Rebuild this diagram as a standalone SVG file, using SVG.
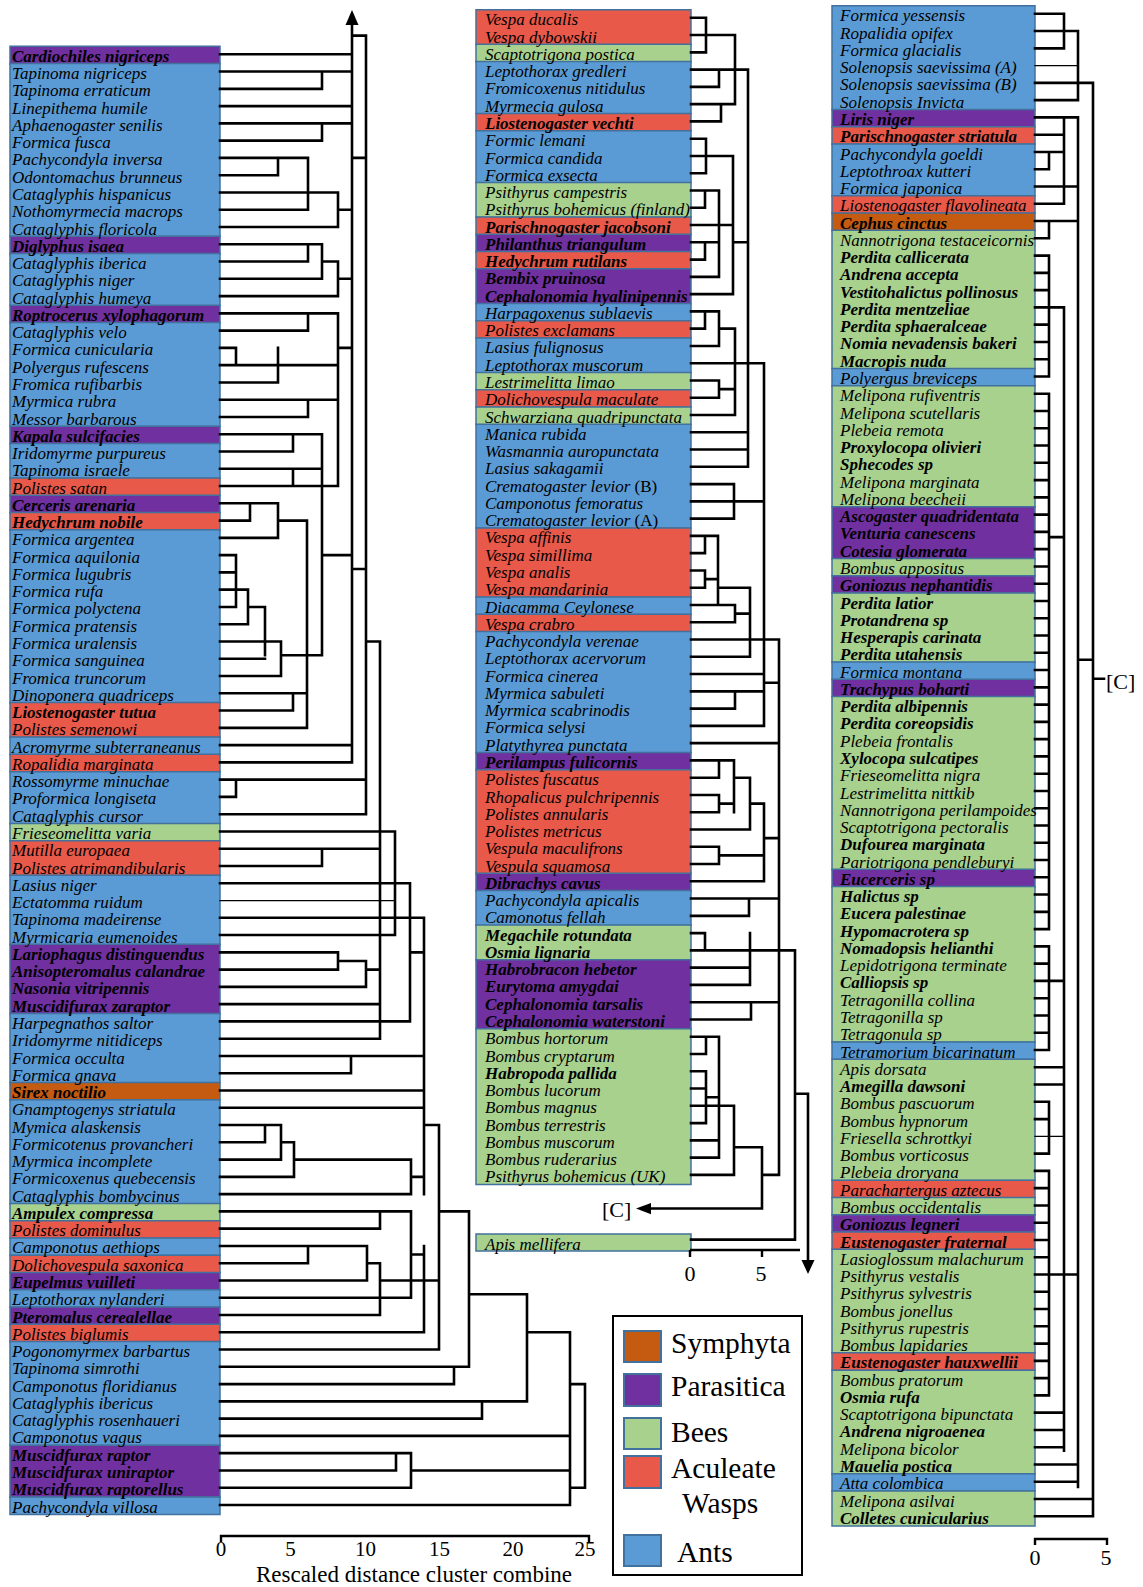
<svg xmlns="http://www.w3.org/2000/svg" width="1143" height="1587" viewBox="0 0 1143 1587">
<style>
.t{font-family:"Liberation Serif","Times New Roman",serif;font-style:italic;font-size:17px;fill:#000}
.b{font-weight:bold}
.n{font-style:normal}
.bx rect{stroke:#41719c;stroke-width:1.5;vector-effect:non-scaling-stroke}
.A{fill:#5b9bd5}.B{fill:#a9d18e}.W{fill:#e8594a}.P{fill:#7030a0}.S{fill:#c55a11}
.ln{fill:none;stroke:#000;stroke-width:2.6;stroke-linecap:square;vector-effect:non-scaling-stroke}
.th{stroke-width:1.3}
.ax{font-family:"Liberation Serif","Times New Roman",serif;font-size:22px;fill:#000}
.lg{font-family:"Liberation Serif","Times New Roman",serif;font-size:29.5px;fill:#000}
.sq{stroke:#41719c;stroke-width:2}
</style>
<rect width="1143" height="1587" fill="#fff"/>

<!-- colour blocks -->
<g id="boxes-left" class="bx" transform="matrix(1 0 0 17.27 0 38.53)">
<rect class="P" x="10" y="0.45" width="210" height="1.02"/>
<rect class="A" x="10" y="1.45" width="210" height="10.02"/>
<rect class="P" x="10" y="11.45" width="210" height="1.02"/>
<rect class="A" x="10" y="12.45" width="210" height="3.02"/>
<rect class="P" x="10" y="15.45" width="210" height="1.02"/>
<rect class="A" x="10" y="16.45" width="210" height="6.02"/>
<rect class="P" x="10" y="22.45" width="210" height="1.02"/>
<rect class="A" x="10" y="23.45" width="210" height="2.02"/>
<rect class="W" x="10" y="25.45" width="210" height="1.02"/>
<rect class="P" x="10" y="26.45" width="210" height="1.02"/>
<rect class="W" x="10" y="27.45" width="210" height="1.02"/>
<rect class="A" x="10" y="28.45" width="210" height="10.02"/>
<rect class="W" x="10" y="38.45" width="210" height="2.02"/>
<rect class="A" x="10" y="40.45" width="210" height="1.02"/>
<rect class="W" x="10" y="41.45" width="210" height="1.02"/>
<rect class="A" x="10" y="42.45" width="210" height="3.02"/>
<rect class="B" x="10" y="45.45" width="210" height="1.02"/>
<rect class="W" x="10" y="46.45" width="210" height="2.02"/>
<rect class="A" x="10" y="48.45" width="210" height="4.02"/>
<rect class="P" x="10" y="52.45" width="210" height="4.02"/>
<rect class="A" x="10" y="56.45" width="210" height="4.02"/>
<rect class="S" x="10" y="60.45" width="210" height="1.02"/>
<rect class="A" x="10" y="61.45" width="210" height="6.02"/>
<rect class="B" x="10" y="67.45" width="210" height="1.02"/>
<rect class="W" x="10" y="68.45" width="210" height="1.02"/>
<rect class="A" x="10" y="69.45" width="210" height="1.02"/>
<rect class="W" x="10" y="70.45" width="210" height="1.02"/>
<rect class="P" x="10" y="71.45" width="210" height="1.02"/>
<rect class="A" x="10" y="72.45" width="210" height="1.02"/>
<rect class="P" x="10" y="73.45" width="210" height="1.02"/>
<rect class="W" x="10" y="74.45" width="210" height="1.02"/>
<rect class="A" x="10" y="75.45" width="210" height="6.02"/>
<rect class="P" x="10" y="81.45" width="210" height="3.02"/>
<rect class="A" x="10" y="84.45" width="210" height="1.02"/>
</g>

<g id="boxes-middle" class="bx" transform="matrix(1 0 0 17.27 0 2.03)">
<rect class="W" x="476" y="0.45" width="215" height="2.02"/>
<rect class="B" x="476" y="2.45" width="215" height="1.02"/>
<rect class="A" x="476" y="3.45" width="215" height="3.02"/>
<rect class="W" x="476" y="6.45" width="215" height="1.02"/>
<rect class="A" x="476" y="7.45" width="215" height="3.02"/>
<rect class="B" x="476" y="10.45" width="215" height="2.02"/>
<rect class="W" x="476" y="12.45" width="215" height="1.02"/>
<rect class="P" x="476" y="13.45" width="215" height="1.02"/>
<rect class="W" x="476" y="14.45" width="215" height="1.02"/>
<rect class="P" x="476" y="15.45" width="215" height="2.02"/>
<rect class="A" x="476" y="17.45" width="215" height="1.02"/>
<rect class="W" x="476" y="18.45" width="215" height="1.02"/>
<rect class="A" x="476" y="19.45" width="215" height="2.02"/>
<rect class="B" x="476" y="21.45" width="215" height="1.02"/>
<rect class="W" x="476" y="22.45" width="215" height="1.02"/>
<rect class="B" x="476" y="23.45" width="215" height="1.02"/>
<rect class="A" x="476" y="24.45" width="215" height="6.02"/>
<rect class="W" x="476" y="30.45" width="215" height="4.02"/>
<rect class="A" x="476" y="34.45" width="215" height="1.02"/>
<rect class="W" x="476" y="35.45" width="215" height="1.02"/>
<rect class="A" x="476" y="36.45" width="215" height="7.02"/>
<rect class="P" x="476" y="43.45" width="215" height="1.02"/>
<rect class="W" x="476" y="44.45" width="215" height="6.02"/>
<rect class="P" x="476" y="50.45" width="215" height="1.02"/>
<rect class="A" x="476" y="51.45" width="215" height="2.02"/>
<rect class="B" x="476" y="53.45" width="215" height="2.02"/>
<rect class="P" x="476" y="55.45" width="215" height="4.02"/>
<rect class="B" x="476" y="59.45" width="215" height="9.02"/>
</g>
<rect class="B" x="476" y="1234" width="215" height="17" stroke="#41719c" stroke-width="1.5"/>

<g id="boxes-right" class="bx" transform="matrix(1 0 0 17.27 0 -1.97)">
<rect class="A" x="832" y="0.45" width="203" height="6.02"/>
<rect class="P" x="832" y="6.45" width="203" height="1.02"/>
<rect class="W" x="832" y="7.45" width="203" height="1.02"/>
<rect class="A" x="832" y="8.45" width="203" height="3.02"/>
<rect class="W" x="832" y="11.45" width="203" height="1.02"/>
<rect class="S" x="832" y="12.45" width="203" height="1.02"/>
<rect class="B" x="832" y="13.45" width="203" height="8.02"/>
<rect class="A" x="832" y="21.45" width="203" height="1.02"/>
<rect class="B" x="832" y="22.45" width="203" height="7.02"/>
<rect class="P" x="832" y="29.45" width="203" height="3.02"/>
<rect class="B" x="832" y="32.45" width="203" height="1.02"/>
<rect class="P" x="832" y="33.45" width="203" height="1.02"/>
<rect class="B" x="832" y="34.45" width="203" height="4.02"/>
<rect class="A" x="832" y="38.45" width="203" height="1.02"/>
<rect class="P" x="832" y="39.45" width="203" height="1.02"/>
<rect class="B" x="832" y="40.45" width="203" height="10.02"/>
<rect class="P" x="832" y="50.45" width="203" height="1.02"/>
<rect class="B" x="832" y="51.45" width="203" height="9.02"/>
<rect class="A" x="832" y="60.45" width="203" height="1.02"/>
<rect class="B" x="832" y="61.45" width="203" height="7.02"/>
<rect class="W" x="832" y="68.45" width="203" height="1.02"/>
<rect class="B" x="832" y="69.45" width="203" height="1.02"/>
<rect class="P" x="832" y="70.45" width="203" height="1.02"/>
<rect class="W" x="832" y="71.45" width="203" height="1.02"/>
<rect class="B" x="832" y="72.45" width="203" height="6.02"/>
<rect class="W" x="832" y="78.45" width="203" height="1.02"/>
<rect class="B" x="832" y="79.45" width="203" height="6.02"/>
<rect class="A" x="832" y="85.45" width="203" height="1.02"/>
<rect class="B" x="832" y="86.45" width="203" height="2.02"/>
</g>

<!-- connectors -->
<g id="connectors">
<g transform="matrix(1 0 0 17.27 0 37.03)">
<path class="ln" d="M352 -0.75V42M352 -0.08H366V45M220 1H352M220 2H352M220 3H322V2M220 4H352M220 5H352M220 6H322V5M220 7H308M220 8H278V7M308 7V10M220 9H338M220 10H308M220 11H338V9M338 10H352M352 7H366M220 12H322M220 13H308V12M220 14H322V12M322 13H338V15M220 15H338M338 14H352M220 16H338M220 17H308V16M220 18H236M220 19H236V18M236 19H278M220 20H278V18M278 19H338M338 16V26M220 21H338M220 22H308V21M338 18H352M220 23H322M220 24H293V23M322 23V35.8M220 25H322M220 26H293V25M293 26H338M220 27H250M220 28H250V27M250 27H278V29M278 28H307M220 29H278M307 28V40M220 30H236M220 31H236M236 30V33M220 32H248M220 33H236M220 34H248V32M248 33H265V35.8M220 35H281M220 36H265M220 37H281V35M281 35.8H322M220 38H307M220 39H293V38M220 40H307M322 30H352M220 41H352M220 42H352M352 30.8H366M220 43H366M220 44H236V43M220 45H366M366 35H380V58M220 46H395M220 47H380M220 48H322V47M220 49H410M220 51H424M220 52H395M395 46V52M220 53H338M220 54H338V53M338 53.5H366M220 55H366V53.5M366 54H380M220 56H380M220 57H380M220 58H380M380 57H410M410 49V57M410 53H424M424 51V67M220 59H424M220 60H351V59M220 61H424M220 62H424M220 63H265M220 64H265V63M265 63H281V65M220 65H281M281 64H294V66M220 66H294M294 65H411V67M220 67H411M411 66H424M424 63H439V76M220 68H411M220 69H380V68M220 70H367M220 71H308V70M220 72H367V70M367 71H380V74M220 73H411V68M220 74H380M380 72H424M411 70.5H424M424 70V75M220 75H424M424 72H439M439 68H469V77M220 76H439M220 77H469M220 78H454V77M469 72.8H527V79M220 79H527M220 80H482V79M527 75H570V85M220 81H570M220 82H411M220 83H396V82M220 84H411V82M411 83H570M220 85H570M570 78H585M570 84H585M585 78V84"/>
<path class="ln th" d="M220 50H395"/>
</g>
<g transform="matrix(1 0 0 17.27 0 0.53)">
<path class="ln" d="M691 1H706M691 2H735M691 3H706M706 1V3M735 2V6M691 4H748M691 5H719V4M691 6H735M691 7H721V6M748 4V27M691 8H706M691 9H733M691 10H706V8M733 9V17M691 11H719M691 12H705V11M691 13H733M691 14H719M691 15H705V14M691 16H719M719 11V16M691 17H733M733 14H748M691 18H705M691 19H705V18M705 18H719V20M691 20H719M719 19H735V24M691 21H764V42M691 22H719M691 23H719V22M719 22.5H735M691 24H735M691 25H748M691 26H748M691 27H748M691 28H734M691 29H764M691 30H734V28M691 31H718M691 32H705V31M691 33H705M691 34H705V33M705 33.5H718M718 31V35M718 34H750V38M691 35H735M691 36H735V35M735 35.5H750M691 37H779M691 38H750M691 39H763M691 40H763M691 41H735V40M691 42H763M691 43H779M779 37V68M764 39.5H779M691 44H734M691 45H719V44M691 46H719M691 47H719V46M734 44V47M719 46.5H734M734 45H750M691 48H750V45M750 46.5H764V51M691 49H719M691 50H719V49M719 49.5H764M691 51H764M764 48.5H779M691 52H779M691 53H749V52M691 54H705M691 55H705V54M705 55H750M691 56H750M691 57H750M750 54V57M750 55H795V71.75M691 58H779M691 59H751V58M691 60H719M691 61H706V60M691 62H706M691 63H706M691 65H706M706 62V65M706 63.5H719M691 64H734M691 66H719M691 67H719M719 60V67M691 68H734M734 64V68M734 66.4H762V69.95H651M762 68H779M691 71.75H795M795 63.3H808V73"/>
</g>
<g transform="matrix(1 0 0 17.27 0 -3.47)">
<path class="ln" d="M1035 1H1064M1035 2H1078M1035 3H1064V1M1078 2V6M1035 5H1093M1035 6H1078M1093 5V88M1035 7H1078M1078 7V86.3M1035 8H1064M1035 9H1064M1035 10H1049V9M1035 11H1078M1035 12H1064M1064 7V12M1035 13H1078M1035 14H1049V13M1035 15h14M1035 16h14M1035 17h14M1035 18h14M1035 19h14M1035 20h14M1035 21h14M1035 22h14M1049 15V22M1049 18H1064M1064 18V84.2M1035 23h14M1035 24h14M1035 25h14M1035 26h14M1035 27h14M1035 28h14M1035 29h14M1035 30h14M1035 31h14M1035 32h14M1035 33h14M1035 34h14M1035 35h14M1035 36h14M1035 37h14M1035 38h14M1035 39h14M1035 40h14M1035 41h14M1035 42h14M1035 43h14M1035 44h14M1035 45h14M1035 46h14M1035 47h14M1035 48h14M1035 49h14M1035 50h14M1035 51h14M1035 52h14M1035 53h14M1035 54h14M1049 23V54M1049 31.3H1064M1035 55h14M1035 56h14M1035 57h14M1035 58h14M1035 59h14M1035 60h14M1035 61h14M1049 55V61M1049 57H1064M1035 62H1064M1035 63H1064M1035 64h14M1035 65h14M1035 67h14M1049 64V67M1035 68h14M1035 69h14M1035 70h14M1035 71h14M1035 72h14M1035 73h14M1035 74H1078M1035 75h14M1035 76h14M1035 77h14M1035 78h14M1035 79h14M1035 80h14M1035 81h14M1049 68V81M1035 82H1064M1035 83H1064M1035 84H1064M1035 85H1078M1035 86H1078M1035 87H1093M1035 88H1093M1078 38.4H1093M1093 39.5H1104"/>
<path class="ln th" d="M1035 4H1078M1035 66H1064"/>
</g>
<polygon points="352,10 345.5,25 358.5,25" fill="#000"/>
<polygon points="636,1208.6 651,1203 651,1214.2" fill="#000"/>
<polygon points="808,1274 801.5,1260 814.5,1260" fill="#000"/>
</g>

<!-- left column nodes -->
<g id="left-nodes" class="t">
<g id="L01"><text class="t b" x="12" y="61.8">Cardiochiles nigriceps</text></g>
<g id="L02"><text class="t" x="12" y="79.1">Tapinoma nigriceps</text></g>
<g id="L03"><text class="t" x="12" y="96.3">Tapinoma erraticum</text></g>
<g id="L04"><text class="t" x="12" y="113.6">Linepithema humile</text></g>
<g id="L05"><text class="t" x="12" y="130.9">Aphaenogaster senilis</text></g>
<g id="L06"><text class="t" x="12" y="148.2">Formica fusca</text></g>
<g id="L07"><text class="t" x="12" y="165.4">Pachycondyla inversa</text></g>
<g id="L08"><text class="t" x="12" y="182.7">Odontomachus brunneus</text></g>
<g id="L09"><text class="t" x="12" y="200.0">Cataglyphis hispanicus</text></g>
<g id="L10"><text class="t" x="12" y="217.2">Nothomyrmecia macrops</text></g>
<g id="L11"><text class="t" x="12" y="234.5">Cataglyphis floricola</text></g>
<g id="L12"><text class="t b" x="12" y="251.8">Diglyphus isaea</text></g>
<g id="L13"><text class="t" x="12" y="269.0">Cataglyphis iberica</text></g>
<g id="L14"><text class="t" x="12" y="286.3">Cataglyphis niger</text></g>
<g id="L15"><text class="t" x="12" y="303.6">Cataglyphis humeya</text></g>
<g id="L16"><text class="t b" x="12" y="320.9">Roptrocerus xylophagorum</text></g>
<g id="L17"><text class="t" x="12" y="338.1">Cataglyphis velo</text></g>
<g id="L18"><text class="t" x="12" y="355.4">Formica cunicularia</text></g>
<g id="L19"><text class="t" x="12" y="372.7">Polyergus rufescens</text></g>
<g id="L20"><text class="t" x="12" y="389.9">Fromica rufibarbis</text></g>
<g id="L21"><text class="t" x="12" y="407.2">Myrmica rubra</text></g>
<g id="L22"><text class="t" x="12" y="424.5">Messor barbarous</text></g>
<g id="L23"><text class="t b" x="12" y="441.7">Kapala sulcifacies</text></g>
<g id="L24"><text class="t" x="12" y="459.0">Iridomyrme purpureus</text></g>
<g id="L25"><text class="t" x="12" y="476.3">Tapinoma israele</text></g>
<g id="L26"><text class="t" x="12" y="493.6">Polistes satan</text></g>
<g id="L27"><text class="t b" x="12" y="510.8">Cerceris arenaria</text></g>
<g id="L28"><text class="t b" x="12" y="528.1">Hedychrum nobile</text></g>
<g id="L29"><text class="t" x="12" y="545.4">Formica argentea</text></g>
<g id="L30"><text class="t" x="12" y="562.6">Formica aquilonia</text></g>
<g id="L31"><text class="t" x="12" y="579.9">Formica lugubris</text></g>
<g id="L32"><text class="t" x="12" y="597.2">Formica rufa</text></g>
<g id="L33"><text class="t" x="12" y="614.4">Formica polyctena</text></g>
<g id="L34"><text class="t" x="12" y="631.7">Formica pratensis</text></g>
<g id="L35"><text class="t" x="12" y="649.0">Formica uralensis</text></g>
<g id="L36"><text class="t" x="12" y="666.3">Formica sanguinea</text></g>
<g id="L37"><text class="t" x="12" y="683.5">Fromica truncorum</text></g>
<g id="L38"><text class="t" x="12" y="700.8">Dinoponera quadriceps</text></g>
<g id="L39"><text class="t b" x="12" y="718.1">Liostenogaster tutua</text></g>
<g id="L40"><text class="t" x="12" y="735.3">Polistes semenowi</text></g>
<g id="L41"><text class="t" x="12" y="752.6">Acromyrme subterraneanus</text></g>
<g id="L42"><text class="t" x="12" y="769.9">Ropalidia marginata</text></g>
<g id="L43"><text class="t" x="12" y="787.1">Rossomyrme minuchae</text></g>
<g id="L44"><text class="t" x="12" y="804.4">Proformica longiseta</text></g>
<g id="L45"><text class="t" x="12" y="821.7">Cataglyphis cursor</text></g>
<g id="L46"><text class="t" x="12" y="839.0">Frieseomelitta varia</text></g>
<g id="L47"><text class="t" x="12" y="856.2">Mutilla europaea</text></g>
<g id="L48"><text class="t" x="12" y="873.5">Polistes atrimandibularis</text></g>
<g id="L49"><text class="t" x="12" y="890.8">Lasius niger</text></g>
<g id="L50"><text class="t" x="12" y="908.0">Ectatomma ruidum</text></g>
<g id="L51"><text class="t" x="12" y="925.3">Tapinoma madeirense</text></g>
<g id="L52"><text class="t" x="12" y="942.6">Myrmicaria eumenoides</text></g>
<g id="L53"><text class="t b" x="12" y="959.8">Lariophagus distinguendus</text></g>
<g id="L54"><text class="t b" x="12" y="977.1">Anisopteromalus calandrae</text></g>
<g id="L55"><text class="t b" x="12" y="994.4">Nasonia vitripennis</text></g>
<g id="L56"><text class="t b" x="12" y="1011.7">Muscidifurax zaraptor</text></g>
<g id="L57"><text class="t" x="12" y="1028.9">Harpegnathos saltor</text></g>
<g id="L58"><text class="t" x="12" y="1046.2">Iridomyrme nitidiceps</text></g>
<g id="L59"><text class="t" x="12" y="1063.5">Formica occulta</text></g>
<g id="L60"><text class="t" x="12" y="1080.7">Formica gnava</text></g>
<g id="L61"><text class="t b" x="12" y="1098.0">Sirex noctilio</text></g>
<g id="L62"><text class="t" x="12" y="1115.3">Gnamptogenys striatula</text></g>
<g id="L63"><text class="t" x="12" y="1132.5">Mymica alaskensis</text></g>
<g id="L64"><text class="t" x="12" y="1149.8">Formicotenus provancheri</text></g>
<g id="L65"><text class="t" x="12" y="1167.1">Myrmica incomplete</text></g>
<g id="L66"><text class="t" x="12" y="1184.4">Formicoxenus quebecensis</text></g>
<g id="L67"><text class="t" x="12" y="1201.6">Cataglyphis bombycinus</text></g>
<g id="L68"><text class="t b" x="12" y="1218.9">Ampulex compressa</text></g>
<g id="L69"><text class="t" x="12" y="1236.2">Polistes dominulus</text></g>
<g id="L70"><text class="t" x="12" y="1253.4">Camponotus aethiops</text></g>
<g id="L71"><text class="t" x="12" y="1270.7">Dolichovespula saxonica</text></g>
<g id="L72"><text class="t b" x="12" y="1288.0">Eupelmus vuilleti</text></g>
<g id="L73"><text class="t" x="12" y="1305.2">Leptothorax nylanderi</text></g>
<g id="L74"><text class="t b" x="12" y="1322.5">Pteromalus cerealellae</text></g>
<g id="L75"><text class="t" x="12" y="1339.8">Polistes biglumis</text></g>
<g id="L76"><text class="t" x="12" y="1357.1">Pogonomyrmex barbartus</text></g>
<g id="L77"><text class="t" x="12" y="1374.3">Tapinoma simrothi</text></g>
<g id="L78"><text class="t" x="12" y="1391.6">Camponotus floridianus</text></g>
<g id="L79"><text class="t" x="12" y="1408.9">Cataglyphis ibericus</text></g>
<g id="L80"><text class="t" x="12" y="1426.1">Cataglyphis rosenhaueri</text></g>
<g id="L81"><text class="t" x="12" y="1443.4">Camponotus vagus</text></g>
<g id="L82"><text class="t b" x="12" y="1460.7">Muscidfurax raptor</text></g>
<g id="L83"><text class="t b" x="12" y="1477.9">Muscidfurax uniraptor</text></g>
<g id="L84"><text class="t b" x="12" y="1495.2">Muscidfurax raptorellus</text></g>
<g id="L85"><text class="t" x="12" y="1512.5">Pachycondyla villosa</text></g>
</g>

<!-- middle column nodes -->
<g id="middle-nodes">
<g id="M01"><text class="t" x="485" y="25.3">Vespa ducalis</text></g>
<g id="M02"><text class="t" x="485" y="42.6">Vespa dybowskii</text></g>
<g id="M03"><text class="t" x="485" y="59.8">Scaptotrigona postica</text></g>
<g id="M04"><text class="t" x="485" y="77.1">Leptothorax gredleri</text></g>
<g id="M05"><text class="t" x="485" y="94.4">Fromicoxenus nitidulus</text></g>
<g id="M06"><text class="t" x="485" y="111.7">Myrmecia gulosa</text></g>
<g id="M07"><text class="t b" x="485" y="128.9">Liostenogaster vechti</text></g>
<g id="M08"><text class="t" x="485" y="146.2">Formic lemani</text></g>
<g id="M09"><text class="t" x="485" y="163.5">Formica candida</text></g>
<g id="M10"><text class="t" x="485" y="180.7">Formica exsecta</text></g>
<g id="M11"><text class="t" x="485" y="198.0">Psithyrus campestris</text></g>
<g id="M12"><text class="t" x="485" y="215.3">Psithyrus bohemicus (finland)</text></g>
<g id="M13"><text class="t b" x="485" y="232.5">Parischnogaster jacobsoni</text></g>
<g id="M14"><text class="t b" x="485" y="249.8">Philanthus triangulum</text></g>
<g id="M15"><text class="t b" x="485" y="267.1">Hedychrum rutilans</text></g>
<g id="M16"><text class="t b" x="485" y="284.4">Bembix pruinosa</text></g>
<g id="M17"><text class="t b" x="485" y="301.6">Cephalonomia hyalinipennis</text></g>
<g id="M18"><text class="t" x="485" y="318.9">Harpagoxenus sublaevis</text></g>
<g id="M19"><text class="t" x="485" y="336.2">Polistes exclamans</text></g>
<g id="M20"><text class="t" x="485" y="353.4">Lasius fulignosus</text></g>
<g id="M21"><text class="t" x="485" y="370.7">Leptothorax muscorum</text></g>
<g id="M22"><text class="t" x="485" y="388.0">Lestrimelitta limao</text></g>
<g id="M23"><text class="t" x="485" y="405.2">Dolichovespula maculate</text></g>
<g id="M24"><text class="t" x="485" y="422.5">Schwarziana quadripunctata</text></g>
<g id="M25"><text class="t" x="485" y="439.8">Manica rubida</text></g>
<g id="M26"><text class="t" x="485" y="457.1">Wasmannia auropunctata</text></g>
<g id="M27"><text class="t" x="485" y="474.3">Lasius sakagamii</text></g>
<g id="M28"><text class="t" x="485" y="491.6">Crematogaster levior <tspan class="n">(B)</tspan></text></g>
<g id="M29"><text class="t" x="485" y="508.9">Camponotus femoratus</text></g>
<g id="M30"><text class="t" x="485" y="526.1">Crematogaster levior <tspan class="n">(A)</tspan></text></g>
<g id="M31"><text class="t" x="485" y="543.4">Vespa affinis</text></g>
<g id="M32"><text class="t" x="485" y="560.7">Vespa simillima</text></g>
<g id="M33"><text class="t" x="485" y="577.9">Vespa analis</text></g>
<g id="M34"><text class="t" x="485" y="595.2">Vespa mandarinia</text></g>
<g id="M35"><text class="t" x="485" y="612.5">Diacamma Ceylonese</text></g>
<g id="M36"><text class="t" x="485" y="629.8">Vespa crabro</text></g>
<g id="M37"><text class="t" x="485" y="647.0">Pachycondyla verenae</text></g>
<g id="M38"><text class="t" x="485" y="664.3">Leptothorax acervorum</text></g>
<g id="M39"><text class="t" x="485" y="681.6">Formica cinerea</text></g>
<g id="M40"><text class="t" x="485" y="698.8">Myrmica sabuleti</text></g>
<g id="M41"><text class="t" x="485" y="716.1">Myrmica scabrinodis</text></g>
<g id="M42"><text class="t" x="485" y="733.4">Formica selysi</text></g>
<g id="M43"><text class="t" x="485" y="750.6">Platythyrea punctata</text></g>
<g id="M44"><text class="t b" x="485" y="767.9">Perilampus fulicornis</text></g>
<g id="M45"><text class="t" x="485" y="785.2">Polistes fuscatus</text></g>
<g id="M46"><text class="t" x="485" y="802.5">Rhopalicus pulchripennis</text></g>
<g id="M47"><text class="t" x="485" y="819.7">Polistes annularis</text></g>
<g id="M48"><text class="t" x="485" y="837.0">Polistes metricus</text></g>
<g id="M49"><text class="t" x="485" y="854.3">Vespula maculifrons</text></g>
<g id="M50"><text class="t" x="485" y="871.5">Vespula squamosa</text></g>
<g id="M51"><text class="t b" x="485" y="888.8">Dibrachys cavus</text></g>
<g id="M52"><text class="t" x="485" y="906.1">Pachycondyla apicalis</text></g>
<g id="M53"><text class="t" x="485" y="923.3">Camonotus fellah</text></g>
<g id="M54"><text class="t b" x="485" y="940.6">Megachile rotundata</text></g>
<g id="M55"><text class="t b" x="485" y="957.9">Osmia lignaria</text></g>
<g id="M56"><text class="t b" x="485" y="975.2">Habrobracon hebetor</text></g>
<g id="M57"><text class="t b" x="485" y="992.4">Eurytoma amygdai</text></g>
<g id="M58"><text class="t b" x="485" y="1009.7">Cephalonomia tarsalis</text></g>
<g id="M59"><text class="t b" x="485" y="1027.0">Cephalonomia waterstoni</text></g>
<g id="M60"><text class="t" x="485" y="1044.2">Bombus hortorum</text></g>
<g id="M61"><text class="t" x="485" y="1061.5">Bombus cryptarum</text></g>
<g id="M62"><text class="t b" x="485" y="1078.8">Habropoda pallida</text></g>
<g id="M63"><text class="t" x="485" y="1096.0">Bombus lucorum</text></g>
<g id="M64"><text class="t" x="485" y="1113.3">Bombus magnus</text></g>
<g id="M65"><text class="t" x="485" y="1130.6">Bombus terrestris</text></g>
<g id="M66"><text class="t" x="485" y="1147.9">Bombus muscorum</text></g>
<g id="M67"><text class="t" x="485" y="1165.1">Bombus ruderarius</text></g>
<g id="M68"><text class="t" x="485" y="1182.4">Psithyrus bohemicus (UK)</text></g>
<g id="M69"><text class="t" x="485" y="1249.5">Apis mellifera</text></g>
</g>

<!-- right column nodes -->
<g id="right-nodes">
<g id="R01"><text class="t" x="840" y="21.3">Formica yessensis</text></g>
<g id="R02"><text class="t" x="840" y="38.6">Ropalidia opifex</text></g>
<g id="R03"><text class="t" x="840" y="55.8">Formica glacialis</text></g>
<g id="R04"><text class="t" x="840" y="73.1">Solenopsis saevissima (A)</text></g>
<g id="R05"><text class="t" x="840" y="90.4">Solenopsis saevissima (B)</text></g>
<g id="R06"><text class="t" x="840" y="107.7">Solenopsis Invicta</text></g>
<g id="R07"><text class="t b" x="840" y="124.9">Liris niger</text></g>
<g id="R08"><text class="t b" x="840" y="142.2">Parischnogaster striatula</text></g>
<g id="R09"><text class="t" x="840" y="159.5">Pachycondyla goeldi</text></g>
<g id="R10"><text class="t" x="840" y="176.7">Leptothroax kutteri</text></g>
<g id="R11"><text class="t" x="840" y="194.0">Formica japonica</text></g>
<g id="R12"><text class="t" x="840" y="211.3">Liostenogaster flavolineata</text></g>
<g id="R13"><text class="t b" x="840" y="228.5">Cephus cinctus</text></g>
<g id="R14"><text class="t" x="840" y="245.8">Nannotrigona testaceicornis</text></g>
<g id="R15"><text class="t b" x="840" y="263.1">Perdita callicerata</text></g>
<g id="R16"><text class="t b" x="840" y="280.4">Andrena accepta</text></g>
<g id="R17"><text class="t b" x="840" y="297.6">Vestitohalictus pollinosus</text></g>
<g id="R18"><text class="t b" x="840" y="314.9">Perdita mentzeliae</text></g>
<g id="R19"><text class="t b" x="840" y="332.2">Perdita sphaeralceae</text></g>
<g id="R20"><text class="t b" x="840" y="349.4">Nomia nevadensis bakeri</text></g>
<g id="R21"><text class="t b" x="840" y="366.7">Macropis nuda</text></g>
<g id="R22"><text class="t" x="840" y="384.0">Polyergus breviceps</text></g>
<g id="R23"><text class="t" x="840" y="401.2">Melipona rufiventris</text></g>
<g id="R24"><text class="t" x="840" y="418.5">Melipona scutellaris</text></g>
<g id="R25"><text class="t" x="840" y="435.8">Plebeia remota</text></g>
<g id="R26"><text class="t b" x="840" y="453.1">Proxylocopa olivieri</text></g>
<g id="R27"><text class="t b" x="840" y="470.3">Sphecodes sp</text></g>
<g id="R28"><text class="t" x="840" y="487.6">Melipona marginata</text></g>
<g id="R29"><text class="t" x="840" y="504.9">Melipona beecheii</text></g>
<g id="R30"><text class="t b" x="840" y="522.1">Ascogaster quadridentata</text></g>
<g id="R31"><text class="t b" x="840" y="539.4">Venturia canescens</text></g>
<g id="R32"><text class="t b" x="840" y="556.7">Cotesia glomerata</text></g>
<g id="R33"><text class="t" x="840" y="573.9">Bombus appositus</text></g>
<g id="R34"><text class="t b" x="840" y="591.2">Goniozus nephantidis</text></g>
<g id="R35"><text class="t b" x="840" y="608.5">Perdita latior</text></g>
<g id="R36"><text class="t b" x="840" y="625.8">Protandrena sp</text></g>
<g id="R37"><text class="t b" x="840" y="643.0">Hesperapis carinata</text></g>
<g id="R38"><text class="t b" x="840" y="660.3">Perdita utahensis</text></g>
<g id="R39"><text class="t" x="840" y="677.6">Formica montana</text></g>
<g id="R40"><text class="t b" x="840" y="694.8">Trachypus boharti</text></g>
<g id="R41"><text class="t b" x="840" y="712.1">Perdita albipennis</text></g>
<g id="R42"><text class="t b" x="840" y="729.4">Perdita coreopsidis</text></g>
<g id="R43"><text class="t" x="840" y="746.6">Plebeia frontalis</text></g>
<g id="R44"><text class="t b" x="840" y="763.9">Xylocopa sulcatipes</text></g>
<g id="R45"><text class="t" x="840" y="781.2">Frieseomelitta nigra</text></g>
<g id="R46"><text class="t" x="840" y="798.5">Lestrimelitta nittkib</text></g>
<g id="R47"><text class="t" x="840" y="815.7">Nannotrigona perilampoides</text></g>
<g id="R48"><text class="t" x="840" y="833.0">Scaptotrigona pectoralis</text></g>
<g id="R49"><text class="t b" x="840" y="850.3">Dufourea marginata</text></g>
<g id="R50"><text class="t" x="840" y="867.5">Pariotrigona pendleburyi</text></g>
<g id="R51"><text class="t b" x="840" y="884.8">Eucerceris sp</text></g>
<g id="R52"><text class="t b" x="840" y="902.1">Halictus sp</text></g>
<g id="R53"><text class="t b" x="840" y="919.3">Eucera palestinae</text></g>
<g id="R54"><text class="t b" x="840" y="936.6">Hypomacrotera sp</text></g>
<g id="R55"><text class="t b" x="840" y="953.9">Nomadopsis helianthi</text></g>
<g id="R56"><text class="t" x="840" y="971.2">Lepidotrigona terminate</text></g>
<g id="R57"><text class="t b" x="840" y="988.4">Calliopsis sp</text></g>
<g id="R58"><text class="t" x="840" y="1005.7">Tetragonilla collina</text></g>
<g id="R59"><text class="t" x="840" y="1023.0">Tetragonilla sp</text></g>
<g id="R60"><text class="t" x="840" y="1040.2">Tetragonula sp</text></g>
<g id="R61"><text class="t" x="840" y="1057.5">Tetramorium bicarinatum</text></g>
<g id="R62"><text class="t" x="840" y="1074.8">Apis dorsata</text></g>
<g id="R63"><text class="t b" x="840" y="1092.0">Amegilla dawsoni</text></g>
<g id="R64"><text class="t" x="840" y="1109.3">Bombus pascuorum</text></g>
<g id="R65"><text class="t" x="840" y="1126.6">Bombus hypnorum</text></g>
<g id="R66"><text class="t" x="840" y="1143.9">Friesella schrottkyi</text></g>
<g id="R67"><text class="t" x="840" y="1161.1">Bombus vorticosus</text></g>
<g id="R68"><text class="t" x="840" y="1178.4">Plebeia droryana</text></g>
<g id="R69"><text class="t" x="840" y="1195.7">Parachartergus aztecus</text></g>
<g id="R70"><text class="t" x="840" y="1212.9">Bombus occidentalis</text></g>
<g id="R71"><text class="t b" x="840" y="1230.2">Goniozus legneri</text></g>
<g id="R72"><text class="t b" x="840" y="1247.5">Eustenogaster fraternal</text></g>
<g id="R73"><text class="t" x="840" y="1264.7">Lasioglossum malachurum</text></g>
<g id="R74"><text class="t" x="840" y="1282.0">Psithyrus vestalis</text></g>
<g id="R75"><text class="t" x="840" y="1299.3">Psithyrus sylvestris</text></g>
<g id="R76"><text class="t" x="840" y="1316.6">Bombus jonellus</text></g>
<g id="R77"><text class="t" x="840" y="1333.8">Psithyrus rupestris</text></g>
<g id="R78"><text class="t" x="840" y="1351.1">Bombus lapidaries</text></g>
<g id="R79"><text class="t b" x="840" y="1368.4">Eustenogaster hauxwellii</text></g>
<g id="R80"><text class="t" x="840" y="1385.6">Bombus pratorum</text></g>
<g id="R81"><text class="t b" x="840" y="1402.9">Osmia rufa</text></g>
<g id="R82"><text class="t" x="840" y="1420.2">Scaptotrigona bipunctata</text></g>
<g id="R83"><text class="t b" x="840" y="1437.4">Andrena nigroaenea</text></g>
<g id="R84"><text class="t" x="840" y="1454.7">Melipona bicolor</text></g>
<g id="R85"><text class="t b" x="840" y="1472.0">Mauelia postica</text></g>
<g id="R86"><text class="t" x="840" y="1489.2">Atta colombica</text></g>
<g id="R87"><text class="t" x="840" y="1506.5">Melipona asilvai</text></g>
<g id="R88"><text class="t b" x="840" y="1523.8">Colletes cunicularius</text></g>
</g>

<!-- cross-reference labels -->
<g id="ref-C">
<text class="ax" x="602" y="1217" font-size="24">[C]</text>
<text class="ax" x="1106" y="689" font-size="24">[C]</text>
</g>

<!-- axes -->
<g id="axes" stroke="#000" stroke-width="2.4" fill="none">
<path d="M221 1542V1536H589V1542"/>
<path d="M690 1250H800M690 1250V1257M762 1250V1257"/>
<path d="M1035 1545V1539H1107V1545"/>
</g>
<g id="axis-labels" class="ax" text-anchor="middle">
<g font-size="21">
<text x="221" y="1556">0</text><text x="290.5" y="1556">5</text><text x="365.5" y="1556">10</text><text x="439.4" y="1556">15</text><text x="513" y="1556">20</text><text x="585" y="1556">25</text>
</g>
<text x="690" y="1281">0</text><text x="761" y="1281">5</text>
<text x="1035" y="1565">0</text><text x="1106" y="1565">5</text>
<text x="414" y="1582" font-size="23">Rescaled distance cluster combine</text>
</g>

<!-- legend -->
<g id="legend">
<rect x="613" y="1316" width="189" height="259" fill="#fff" stroke="#000" stroke-width="2"/>
<rect class="S sq" x="624" y="1331" width="37" height="31"/>
<rect class="P sq" x="624" y="1374" width="37" height="32"/>
<rect class="B sq" x="624" y="1418" width="37" height="31"/>
<rect class="W sq" x="624" y="1456" width="37" height="32"/>
<rect class="A sq" x="624" y="1535" width="37" height="31"/>
<text class="lg" x="671" y="1353">Symphyta</text>
<text class="lg" x="671" y="1396">Parasitica</text>
<text class="lg" x="671" y="1442">Bees</text>
<text class="lg" x="671" y="1478">Aculeate</text>
<text class="lg" x="682" y="1513">Wasps</text>
<text class="lg" x="677" y="1562">Ants</text>
</g>
</svg>
